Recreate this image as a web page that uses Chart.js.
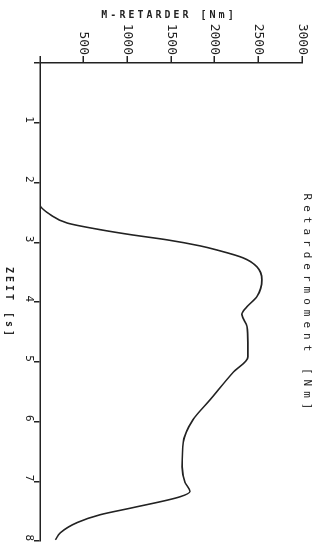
<!DOCTYPE html>
<html>
<head>
<meta charset="utf-8">
<script src="https://cdn.jsdelivr.net/npm/chart.js@4"></script>
<style>
    html, body { margin: 0; padding: 0; background: #fff; overflow: hidden; }
    /* the chart is drawn upright and then turned a quarter clockwise, like the scan */
    #wrap {
        position: absolute; left: 0; top: 0;
        width: 545px; height: 328px;
        transform-origin: 0 0;
        transform: translate(328px, 0) rotate(90deg);
    }
</style>
</head>
<body>
<div id="wrap"><canvas id="retarderChart" width="545" height="328"></canvas></div>
<script>
// ZEIT [s]
const zeit = [0, 2.37, 2.54, 2.68, 2.79, 2.88, 2.96, 3.06, 3.13, 3.26, 3.41, 3.63, 3.91, 4.08, 4.21,
    4.41, 4.68, 4.92, 5.18, 5.64, 5.97, 6.35, 6.76, 7.02, 7.17, 7.26, 7.44, 7.56, 7.69, 7.86, 7.98];
// M-RETARDER [Nm]
const moment = [0, 0, 120, 314, 690, 1070, 1455, 1830, 2026, 2323, 2483, 2540, 2483, 2370, 2312,
    2370, 2380, 2380, 2210, 1946, 1752, 1640, 1627, 1660, 1718, 1604, 1070, 690, 428, 234, 177];
const zeitTicks = [1, 2, 3, 4, 5, 6, 7, 8];
const momentTicks = [500, 1000, 1500, 2000, 2500, 3000];

const ink = '#222';
const mono = '"DejaVu Sans Mono", monospace';

// plotter style texts are spaced out, which the scale titles can't do, so they're drawn here
const beschriftung = {
    id: 'beschriftung',
    afterDraw(chart) {
        const { ctx, chartArea } = chart;
        const mitteX = (chartArea.left + chartArea.right) / 2;
        const mitteY = (chartArea.top + chartArea.bottom) / 2;
        ctx.save();
        ctx.fillStyle = ink;
        ctx.textAlign = 'center';
        ctx.textBaseline = 'middle';

        ctx.font = '11px ' + mono;
        ctx.letterSpacing = '5px';
        ctx.fillText('Retardermoment [Nm]', mitteX + 2, chartArea.top - 5);

        ctx.font = 'bold 10px ' + mono;
        ctx.letterSpacing = '3px';
        ctx.fillText('ZEIT [s]', mitteX + 1, chart.height - 9);

        ctx.translate(15, mitteY + 3);
        ctx.rotate(-Math.PI / 2);
        ctx.fillText('M-RETARDER [Nm]', 1, 0);
        ctx.restore();
    }
};

const punkte = zeit.map((t, i) => ({ x: t, y: moment[i] }));

new Chart(document.getElementById('retarderChart'), {
    type: 'scatter',
    data: {
        datasets: [{
            label: 'Retardermoment',
            data: punkte,
            showLine: true,
            borderColor: ink,
            borderWidth: 1.6,
            pointRadius: 0,
            cubicInterpolationMode: 'monotone'
        }]
    },
    options: {
        responsive: false,
        animation: false,
        devicePixelRatio: 1,
        layout: { padding: { top: 26, right: 4, left: 0, bottom: 0 } },
        plugins: {
            legend: { display: false },
            tooltip: { enabled: false }
        },
        scales: {
            x: {
                type: 'linear',
                min: 0,
                max: 8,
                afterFit(scale) { scale.height = 40; },
                afterBuildTicks(scale) { scale.ticks = [0].concat(zeitTicks).map(v => ({ value: v })); },
                border: { display: true, color: ink, width: 1.5 },
                grid: { drawOnChartArea: false, drawTicks: true, tickLength: 6, color: ink, lineWidth: 1.5 },
                ticks: {
                    align: 'end',
                    padding: -1,
                    maxRotation: 0,
                    color: ink,
                    font: { family: mono, size: 11 },
                    callback: v => (v === 0 ? '' : v)
                }
            },
            y: {
                type: 'linear',
                min: 0,
                max: 3000,
                afterFit(scale) { scale.width = 63; },
                afterBuildTicks(scale) { scale.ticks = [0].concat(momentTicks).map(v => ({ value: v })); },
                border: { display: true, color: ink, width: 1.5 },
                grid: { drawOnChartArea: false, drawTicks: true, tickLength: 7, color: ink, lineWidth: 1.5 },
                ticks: {
                    padding: 1,
                    color: ink,
                    font: { family: mono, size: 13 },
                    callback: v => (v === 0 ? '' : v)
                }
            }
        }
    },
    plugins: [beschriftung]
});
</script>
</body>
</html>
